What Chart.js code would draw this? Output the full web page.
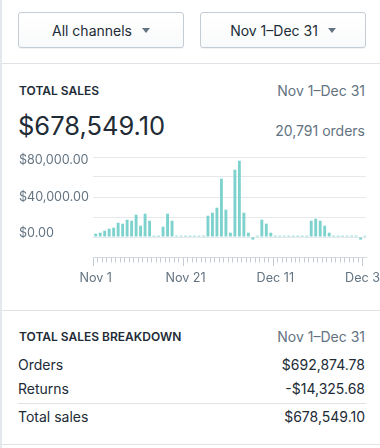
<!DOCTYPE html>
<html>
<head>
<meta charset="utf-8">
<script src="https://cdn.jsdelivr.net/npm/chart.js@4/dist/chart.umd.min.js"></script>
<style>
  html,body{margin:0;padding:0;background:#fff;}
  body{width:380px;height:448px;overflow:hidden;position:relative;font-family:Inter,"Noto Sans",sans-serif;color:#212b36;}
  .abs{position:absolute;white-space:nowrap;}
  .vline{position:absolute;left:0;top:0;width:2px;height:448px;background:#e4e7eb;}
  .hline{position:absolute;height:1px;background:#dfe3e8;}
  .btn{position:absolute;box-sizing:border-box;height:36px;border:1px solid #c4cdd5;border-radius:3px;
       background:linear-gradient(#ffffff,#f9fafb);box-shadow:0 1px 0 rgba(22,29,37,0.05);
       display:flex;align-items:center;justify-content:center;font-size:14px;color:#212b36;}
  .caret{display:inline-block;width:0;height:0;margin-left:10px;border-left:4.5px solid transparent;border-right:4.5px solid transparent;border-top:5px solid #637381;}
  .sub{font-size:12px;font-weight:600;letter-spacing:0;color:#212b36;}
  .grey{color:#637381;font-size:14px;}
  .right{text-align:right;}
  .row{font-size:14px;color:#212b36;}
  #wrap{position:absolute;left:19px;top:147px;width:369px;height:140px;}
</style>
</head>
<body>
<div class="vline"></div>

<div class="btn" style="left:18px;top:12px;width:166px;">All channels<span class="caret"></span></div>
<div class="btn" style="left:200px;top:12px;width:166px;">Nov 1–Dec 31<span class="caret"></span></div>
<div class="hline" style="left:2px;top:63px;width:378px;"></div>

<div class="abs sub" style="left:19px;top:83px;line-height:16px;">TOTAL SALES</div>
<div class="abs grey right" style="right:15px;top:81px;line-height:20px;">Nov 1–Dec 31</div>
<div class="abs" style="left:18px;top:110px;line-height:32px;font-size:25.5px;">$678,549.10</div>
<div class="abs grey right" style="right:15px;top:121px;line-height:20px;">20,791 orders</div>

<div id="wrap"><canvas id="c" width="369" height="140"></canvas></div>

<div class="hline" style="left:2px;top:310px;width:378px;"></div>
<div class="abs sub" style="left:19px;top:329px;line-height:16px;">TOTAL SALES BREAKDOWN</div>
<div class="abs grey right" style="right:15px;top:327px;line-height:20px;">Nov 1–Dec 31</div>
<div class="abs row" style="left:18px;top:355px;line-height:20px;">Orders</div>
<div class="abs row right" style="right:15px;top:355px;line-height:20px;">$692,874.78</div>
<div class="abs row" style="left:18px;top:379px;line-height:20px;">Returns</div>
<div class="abs row right" style="right:15px;top:379px;line-height:20px;">-$14,325.68</div>
<div class="hline" style="left:18px;top:403px;width:348px;"></div>
<div class="abs row" style="left:18px;top:407px;line-height:20px;">Total sales</div>
<div class="abs row right" style="right:15px;top:407px;line-height:20px;">$678,549.10</div>
<div class="hline" style="left:2px;top:444px;width:378px;"></div>

<script>
// Days Nov 1 .. Dec 31 (index 0..60)
const days = [
  "Nov 1","Nov 2","Nov 3","Nov 4","Nov 5","Nov 6","Nov 7","Nov 8","Nov 9","Nov 10",
  "Nov 11","Nov 12","Nov 13","Nov 14","Nov 15","Nov 16","Nov 17","Nov 18","Nov 19","Nov 20",
  "Nov 21","Nov 22","Nov 23","Nov 24","Nov 25","Nov 26","Nov 27","Nov 28","Nov 29","Nov 30",
  "Dec 1","Dec 2","Dec 3","Dec 4","Dec 5","Dec 6","Dec 7","Dec 8","Dec 9","Dec 10",
  "Dec 11","Dec 12","Dec 13","Dec 14","Dec 15","Dec 16","Dec 17","Dec 18","Dec 19","Dec 20",
  "Dec 21","Dec 22","Dec 23","Dec 24","Dec 25","Dec 26","Dec 27","Dec 28","Dec 29","Dec 30",
  "Dec 31"
];
// Daily total sales (USD)
const sales = [
  3300, 4300, 6300, 8300, 9300, 14300, 13300, 17300, 16300, 22300,
  11300, 23300, 16300, 1300, 1300, 10300, 23300, 16300, 1300, 1300,
  1300, 1300, 1300, 1300, 1300, 21300, 24300, 29300, 58300, 27300,
  4300, 67300, 76300, 24300, 4300, -2600, 1300, 17300, 13300, 4300,
  1300, 1300, 1300, 1300, 1300, 1300, 1300, 1300, 16300, 18300,
  16300, 11300, 4300, 1300, 1300, 1300, 1300, 1300, 1300, -2600,
  1300
];
const xTickLabels = ["Nov 1", "Nov 21", "Dec 11", "Dec 31"];
const yTickValues = [80000, 40000, 0];
const yTickLabels = ["$80,000.00", "$40,000.00", "$0.00"];

const FONT = 'Inter, "Noto Sans", sans-serif';
const GREY = '#637381';
const isMajor = v => xTickLabels.includes(days[v]);

new Chart(document.getElementById('c'), {
  type: 'bar',
  data: {
    datasets: [{
      data: sales.map((v, i) => ({x: i, y: v})),
      backgroundColor: '#7dd2ce',
      borderWidth: 0,
      categoryPercentage: 1,
      barPercentage: 0.64
    }]
  },
  options: {
    responsive: false,
    animation: false,
    devicePixelRatio: 1,
    layout: {autoPadding: false, padding: {top: 10, right: 22, bottom: 0, left: 0}},
    plugins: {legend: {display: false}, tooltip: {enabled: false}},
    scales: {
      x: {
        type: 'linear',
        min: -0.6,
        max: 60.2,
        offset: false,
        afterFit(s) { s.paddingLeft = 0; s.paddingRight = 0; s.height = 30; },
        border: {display: true, color: '#d3d9df', width: 1},
        grid: {
          drawOnChartArea: false,
          drawTicks: true,
          tickLength: 9,
          tickWidth: 1,
          tickColor: '#c4cdd5',
          tickBorderDash: ctx => (ctx.tick && isMajor(ctx.tick.value)) ? [] : [4.5, 30]
        },
        ticks: {
          stepSize: 1,
          autoSkip: false,
          includeBounds: false,
          maxTicksLimit: 1000,
          maxRotation: 0,
          minRotation: 0,
          padding: 5,
          color: GREY,
          font: {family: FONT, size: 12.6},
          callback: v => (Number.isInteger(v) && isMajor(v)) ? days[v] : ''
        }
      },
      y: {
        position: 'left',
        min: -20000,
        max: 80000,
        afterFit(s) { s.width = 0; s.paddingTop = 0; s.paddingBottom = 0; },
        border: {display: false},
        grid: {color: '#e6e9ec', lineWidth: 1, drawTicks: false},
        ticks: {stepSize: 20000, display: false}
      },
      yLabels: {
        type: 'linear',
        position: 'left',
        min: -25578,
        max: 83265,
        afterBuildTicks(s) { s.ticks = yTickValues.map(v => ({value: v})); },
        afterFit(s) { s.width = 74; s.paddingTop = 0; s.paddingBottom = 0; },
        border: {display: false},
        grid: {display: false, drawTicks: false},
        ticks: {
          crossAlign: 'far',
          padding: 0,
          color: GREY,
          font: {family: FONT, size: 12.6},
          callback: v => {
            const k = yTickValues.indexOf(v);
            return k >= 0 ? yTickLabels[k] : '';
          }
        }
      }
    }
  }
});
</script>
</body>
</html>
